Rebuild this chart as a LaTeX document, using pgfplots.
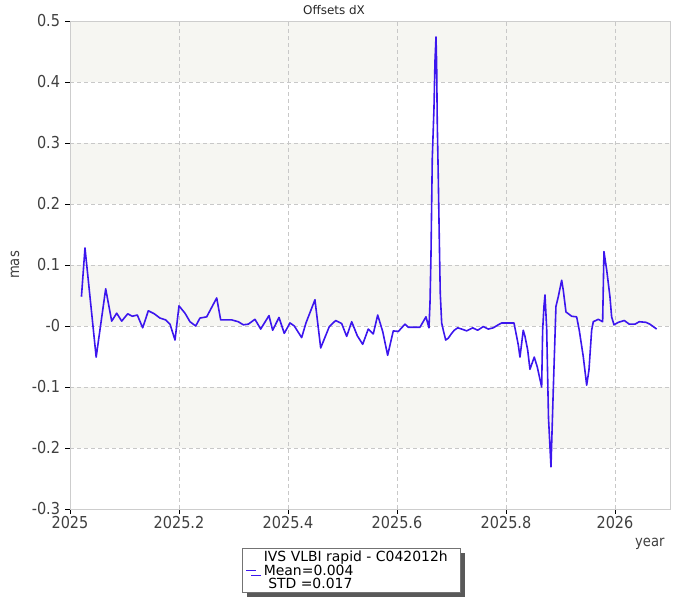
\documentclass[border=0pt]{standalone}
\usepackage{pgfplots}
\pgfplotsset{compat=1.18}
\usepackage{fontspec}
\setmainfont{DejaVu Sans}
\newfontfamily\tickfont{DejaVu Sans}[FakeStretch=0.88]
\usetikzlibrary{shadows}
\definecolor{lineblue}{RGB}{60,22,238}
\definecolor{band}{RGB}{246,246,242}
\definecolor{gridc}{RGB}{200,200,200}
\definecolor{framec}{RGB}{205,205,205}
\definecolor{txt}{RGB}{64,64,64}
\begin{document}
\begin{tikzpicture}
\begin{axis}[
  at={(0,0)}, anchor=south west,
  scale only axis, width=600bp, height=488bp,
  set layers,
  xmin=2025, xmax=2026.101, ymin=-0.3, ymax=0.5,
  xtick={2025,2025.2,2025.4,2025.6,2025.8,2026},
  xticklabels={2025,2025.2,2025.4,2025.6,2025.8,2026},
  ytick={-0.3,-0.2,-0.1,0,0.1,0.2,0.3,0.4,0.5},
  yticklabels={-0.3,-0.2,-0.1,-0,0.1,0.2,0.3,0.4,0.5},
  tick pos=left, tick align=outside, major tick length=5bp,
  tick style={black, line width=0.8bp},
  axis line style={framec, line width=0.8bp},
  grid=major,
  major grid style={gridc, dash pattern=on 4bp off 3bp, line width=0.8bp},
  ticklabel style={font=\tickfont\fontsize{16.5}{18}\selectfont, text=txt},
  xticklabel style={yshift=1bp},
  yticklabel style={xshift=-1.5bp},
  title={Offsets dX},
  title style={at={(axis description cs:0.44,1)}, anchor=base, yshift=1bp, font=\fontsize{12}{14}\selectfont, text=black!85},
  ylabel={mas},
  ylabel style={at={(axis description cs:-0.0917,0.5)}, anchor=center, font=\tickfont\fontsize{15}{17}\selectfont, text=txt},
  xlabel={year},
  xlabel style={at={(axis description cs:1,0)}, anchor=north east, yshift=-26bp, xshift=-2bp, font=\tickfont\fontsize{15}{17}\selectfont, text=txt},
  legend style={at={(axis description cs:0.2867,-0.0799)}, anchor=north west,
     draw=black!55, fill=white, font=\fontsize{14}{13}\selectfont,
     inner xsep=3bp, inner ysep=0.5bp, column sep=5bp,
     nodes={inner sep=2bp, align=left},
     drop shadow={shadow xshift=5bp, shadow yshift=-5bp, fill=black!65, opacity=1}},
  legend image code/.code={\draw[#1] (0bp,0bp) -- (10bp,0bp);},
]
\begin{pgfonlayer}{axis background}
\fill[band] (axis cs:2025,0.4) rectangle (axis cs:2026.101,0.5);
\fill[band] (axis cs:2025,0.2) rectangle (axis cs:2026.101,0.3);
\fill[band] (axis cs:2025,0.0) rectangle (axis cs:2026.101,0.1);
\fill[band] (axis cs:2025,-0.2) rectangle (axis cs:2026.101,-0.1);
\end{pgfonlayer}
\addplot[lineblue, line width=1.6bp, line join=round] coordinates {
(2025.021,0.048) (2025.0275,0.128) (2025.048,-0.051) (2025.0655,0.061)
(2025.0765,0.008) (2025.0857,0.021) (2025.0949,0.008) (2025.1059,0.020)
(2025.1143,0.016) (2025.1235,0.018) (2025.1334,-0.003) (2025.1437,0.025)
(2025.1547,0.020) (2025.1651,0.013) (2025.1756,0.010) (2025.1835,0.003)
(2025.1927,-0.023) (2025.2000,0.033) (2025.2110,0.021) (2025.2202,0.007)
(2025.2306,0.000) (2025.2385,0.013) (2025.2508,0.015) (2025.2692,0.046)
(2025.2765,0.010) (2025.2967,0.010) (2025.3088,0.007) (2025.3180,0.002)
(2025.3272,0.003) (2025.3394,0.011) (2025.3499,-0.005) (2025.3651,0.017)
(2025.3719,-0.007) (2025.3835,0.014) (2025.3932,-0.012) (2025.4037,0.005)
(2025.4116,0.000) (2025.4251,-0.019) (2025.4330,0.005) (2025.4495,0.043)
(2025.4600,-0.036) (2025.4758,-0.001) (2025.4875,0.009) (2025.4985,0.004)
(2025.5077,-0.017) (2025.5169,0.007) (2025.5272,-0.016) (2025.5371,-0.030)
(2025.5473,-0.005) (2025.5565,-0.013) (2025.5646,0.018) (2025.5738,-0.009)
(2025.5829,-0.048) (2025.5932,-0.008) (2025.6024,-0.009) (2025.6147,0.003)
(2025.6207,-0.002) (2025.6422,-0.002) (2025.6532,0.015) (2025.6587,-0.003)
(2025.6606,0.038) (2025.6624,0.116) (2025.6648,0.275) (2025.6679,0.357)
(2025.6697,0.433) (2025.6716,0.474) (2025.6728,0.428) (2025.6739,0.335)
(2025.6758,0.243) (2025.6776,0.146) (2025.6794,0.054) (2025.6820,0.005)
(2025.6850,-0.007) (2025.6894,-0.023) (2025.6941,-0.020) (2025.7004,-0.012)
(2025.7051,-0.007) (2025.7114,-0.003) (2025.7187,-0.005) (2025.7279,-0.008)
(2025.7389,-0.003) (2025.7480,-0.007) (2025.7583,-0.001) (2025.7675,-0.005)
(2025.7767,-0.003) (2025.7859,0.002) (2025.7921,0.005) (2025.8147,0.005)
(2025.8178,-0.009) (2025.8226,-0.031) (2025.8257,-0.051) (2025.8317,-0.007)
(2025.8349,-0.017) (2025.8398,-0.039) (2025.8440,-0.071) (2025.8519,-0.051)
(2025.8574,-0.067) (2025.8655,-0.100) (2025.8673,-0.007) (2025.8697,0.032)
(2025.8716,0.051) (2025.8747,-0.004) (2025.8780,-0.150) (2025.8826,-0.231)
(2025.8868,-0.105) (2025.8917,0.032) (2025.8960,0.048) (2025.9022,0.075)
(2025.9051,0.059) (2025.9101,0.023) (2025.9206,0.016) (2025.9297,0.015)
(2025.9345,-0.007) (2025.9418,-0.050) (2025.9481,-0.097) (2025.9523,-0.072)
(2025.9572,-0.007) (2025.9602,0.007) (2025.9694,0.011) (2025.9774,0.007)
(2025.9798,0.122) (2025.9848,0.092) (2025.9908,0.048) (2025.9939,0.015)
(2025.9982,0.002) (2026.0061,0.006) (2026.0171,0.009) (2026.0263,0.003)
(2026.0367,0.003) (2026.0446,0.007) (2026.0569,0.006) (2026.0642,0.003)
(2026.0703,-0.001) (2026.0765,-0.005)
};
\addlegendentry{IVS VLBI rapid - C042012h\rule{7bp}{0pt}\\Mean=0.004\\\ STD =0.017}
\end{axis}
\pgfresetboundingbox
\path (-70bp,-91bp) rectangle (630bp,509bp);
\end{tikzpicture}
\end{document}
